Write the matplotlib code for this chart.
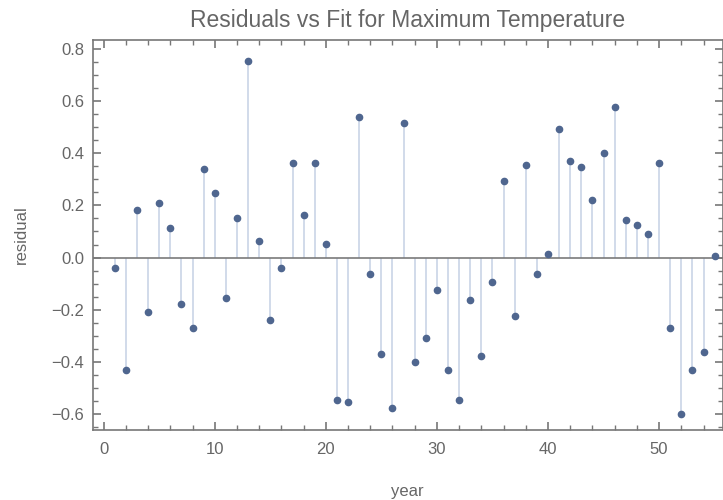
import numpy as np
import matplotlib
matplotlib.use("Agg")
import matplotlib.pyplot as plt
from matplotlib.ticker import MultipleLocator

plt.rcParams['font.family'] = ['Liberation Sans', 'DejaVu Sans']

# residuals, year 1..55
years = np.arange(1, 56)
residuals = [
    -0.038, -0.431, 0.183, -0.209, 0.208, 0.114, -0.177, -0.270, 0.338, 0.246,
    -0.154, 0.153, 0.753, 0.062, -0.240, -0.038, 0.362, 0.162, 0.362, 0.054,
    -0.546, -0.554, 0.538, -0.062, -0.368, -0.577, 0.515, -0.400, -0.308, -0.123,
    -0.431, -0.546, -0.162, -0.377, -0.092, 0.292, -0.223, 0.354, -0.062, 0.015,
    0.492, 0.369, 0.346, 0.222, 0.400, 0.577, 0.145, 0.123, 0.092, 0.362,
    -0.269, -0.600, -0.431, -0.362, 0.008,
]

txt = '#666666'
frame = '#777777'

fig = plt.figure(figsize=(7.23, 5.0), dpi=100)
ax = fig.add_axes([0.128, 0.140, 0.872, 0.781])

ax.vlines(years, 0, residuals, color='#c9d4e6', lw=1.2, zorder=1)
ax.axhline(0, color='#7a7a7a', lw=1.2, zorder=2)
ax.plot(years, residuals, 'o', ms=4.5, color='#4f668f', zorder=3)

ax.set_xlim(-1.0, 55.75)
ax.set_ylim(-0.66, 0.835)

ax.xaxis.set_major_locator(MultipleLocator(10))
ax.xaxis.set_minor_locator(MultipleLocator(2))
ax.yaxis.set_major_locator(MultipleLocator(0.2))
ax.yaxis.set_minor_locator(MultipleLocator(0.05))
ax.yaxis.set_major_formatter(plt.FuncFormatter(lambda v, p: f"{v:.1f}".replace('-', '\u2212')))

ax.tick_params(which='both', direction='in', top=True, right=True, colors=frame,
               labelcolor=txt, labelsize=12)
ax.tick_params(which='major', length=6, width=1.2)
ax.tick_params(which='minor', length=3.5, width=1.0)
ax.tick_params(axis='x', which='major', pad=9)
ax.tick_params(axis='y', which='major', pad=6)
for s in ax.spines.values():
    s.set_color(frame)
    s.set_linewidth(1.2)

ax.set_xlabel('year', color=txt, fontsize=12, labelpad=19)
ax.set_ylabel('residual', color=txt, fontsize=12, labelpad=16)
ax.set_title('Residuals vs Fit for Maximum Temperature', color=txt, fontsize=16.5, pad=9)

fig.savefig('out.png', dpi=100)
